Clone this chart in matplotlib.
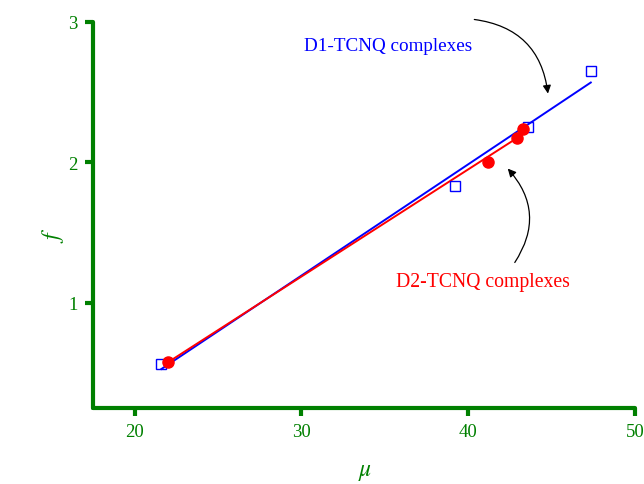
import numpy as np
import matplotlib.pyplot as plt
from matplotlib.ticker import MultipleLocator

plt.rcParams['font.family'] = ['Liberation Serif', 'DejaVu Serif']
plt.rcParams['mathtext.fontset'] = 'stix'

d1_mu = [21.6, 39.2, 43.6, 47.35]
d1_f = [0.56, 1.83, 2.25, 2.65]
d2_mu = [22.0, 41.2, 42.9, 43.3]
d2_f = [0.58, 2.00, 2.17, 2.24]

green = '#008000'

fig = plt.figure(figsize=(6.44, 4.85), dpi=100)
ax = fig.add_axes([0.1444, 0.1567, 0.8416, 0.796])

# linear fits
p1 = np.polyfit(d1_mu, d1_f, 1)
p2 = np.polyfit(d2_mu, d2_f, 1)
x1 = np.array([min(d1_mu), max(d1_mu)])
x2 = np.array([min(d2_mu), max(d2_mu)])
ax.plot(x1, np.polyval(p1, x1), color='blue', lw=1.4, zorder=2)
ax.plot(x2, np.polyval(p2, x2), color='red', lw=1.4, zorder=3)

ax.plot(d1_mu, d1_f, 's', ms=7, mfc='none', mec='blue', mew=1.0, zorder=4)
ax.plot(d2_mu, d2_f, 'o', ms=8, color='red', zorder=5)

ax.set_xlim(17.5, 50)
ax.set_ylim(0.25, 3)
ax.xaxis.set_major_locator(MultipleLocator(10))
ax.xaxis.set_minor_locator(MultipleLocator(5))
ax.yaxis.set_major_locator(MultipleLocator(1))
ax.yaxis.set_minor_locator(MultipleLocator(0.5))

for s in ['top', 'right']:
    ax.spines[s].set_visible(False)
for s in ['left', 'bottom']:
    ax.spines[s].set_color(green)
    ax.spines[s].set_linewidth(3)
    ax.spines[s].set_capstyle('round')
ax.tick_params(which='major', direction='out', length=6, width=3, color=green,
               labelcolor=green, labelsize=13.5, pad=5)
ax.tick_params(which='minor', direction='inout', length=3, width=1.5, color=green)

ax.set_xlabel(r'$\mu$', color=green, fontsize=17, va='center')
ax.xaxis.set_label_coords(0.502, -0.165)
ax.set_ylabel(r'$f$', color=green, fontsize=17, va='center')
ax.yaxis.set_label_coords(-0.074, 0.45)

ax.text(35.2, 2.83, 'D1-TCNQ complexes', color='blue', fontsize=13.8,
        ha='center', va='center')
ax.text(40.9, 1.15, 'D2-TCNQ complexes', color='red', fontsize=14.2,
        ha='center', va='center')

ax.annotate('', xy=(42.26, 1.97), xytext=(42.7, 1.27),
            arrowprops=dict(arrowstyle='-|>', color='black', lw=0.9,
                            connectionstyle='arc3,rad=0.4', mutation_scale=12))
ax.annotate('', xy=(44.8, 2.47), xytext=(40.2, 3.02),
            arrowprops=dict(arrowstyle='-|>', color='black', lw=0.9,
                            connectionstyle='arc3,rad=-0.4', mutation_scale=12))

fig.savefig('out.png', dpi=100)
